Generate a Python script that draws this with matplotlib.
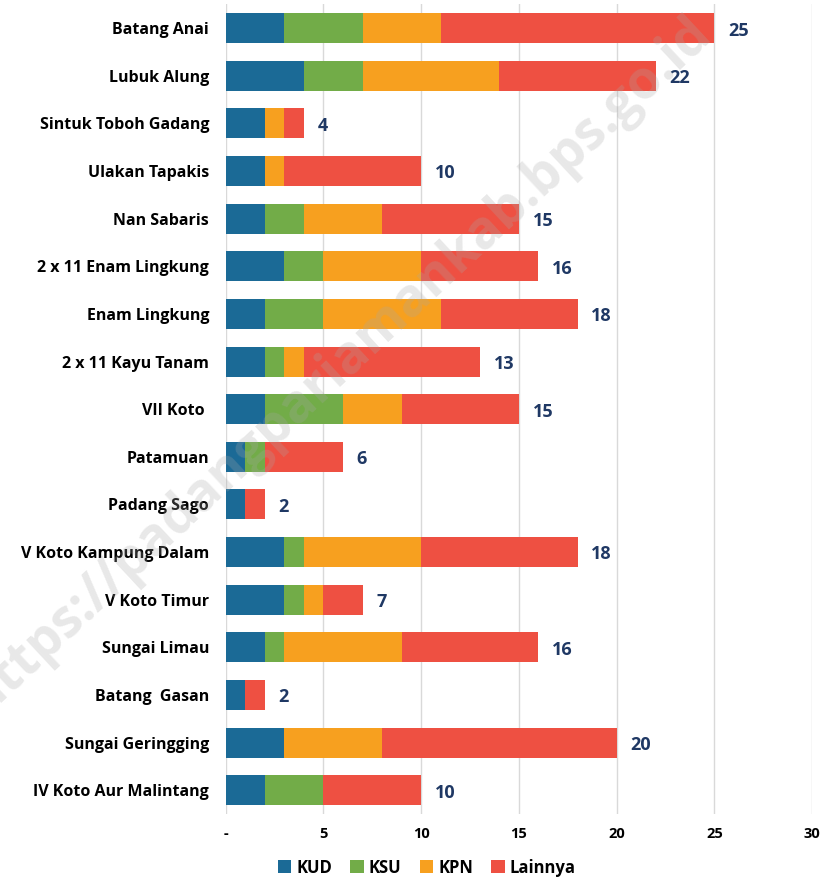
import matplotlib.pyplot as plt
import numpy as np

# Data koperasi per kecamatan
kecamatan = ['Batang Anai', 'Lubuk Alung', 'Sintuk Toboh Gadang', 'Ulakan Tapakis',
             'Nan Sabaris', '2 x 11 Enam Lingkung', 'Enam Lingkung', '2 x 11 Kayu Tanam',
             'VII Koto ', 'Patamuan', 'Padang Sago', 'V Koto Kampung Dalam',
             'V Koto Timur', 'Sungai Limau', 'Batang  Gasan', 'Sungai Geringging',
             'IV Koto Aur Malintang']
kud = [3, 4, 2, 2, 2, 3, 2, 2, 2, 1, 1, 3, 3, 2, 1, 3, 2]
ksu = [4, 3, 0, 0, 2, 2, 3, 1, 4, 1, 0, 1, 1, 1, 0, 0, 3]
kpn = [4, 7, 1, 1, 4, 5, 6, 1, 3, 0, 0, 6, 1, 6, 0, 5, 0]
lainnya = [14, 8, 1, 7, 7, 6, 7, 9, 6, 4, 1, 8, 2, 7, 1, 12, 5]

series = [('KUD', kud, '#1B6A96'), ('KSU', ksu, '#72AC48'),
          ('KPN', kpn, '#F7A01F'), ('Lainnya', lainnya, '#EE5042')]

plt.rcParams['font.family'] = ['Open Sans', 'DejaVu Sans']

fig = plt.figure(figsize=(8.27, 8.81), dpi=100)
ax = fig.add_axes([0.273, 0.076, 0.709, 0.919])

y = np.arange(len(kecamatan))
left = np.zeros(len(kecamatan))
for name, vals, color in series:
    ax.barh(y, vals, left=left, height=0.63, color=color, label=name, zorder=2)
    left += np.array(vals)

# Label total
for i, total in enumerate(left):
    ax.text(total + 0.7, i + 0.05, f'{int(total)}', va='center', ha='left',
            fontsize=13, fontweight='bold', color='#1F3864')

ax.set_ylim(len(kecamatan) - 0.5, -0.5)
ax.set_xlim(0, 30)
ax.set_yticks(y)
ax.set_yticklabels(kecamatan, fontsize=11.5, fontweight='bold')
ax.set_xticks(range(0, 31, 5))
ax.set_xticklabels(['-'] + [str(v) for v in range(5, 31, 5)], fontsize=10.5, fontweight='bold')
ax.tick_params(length=0)
ax.tick_params(axis='x', pad=9)
ax.tick_params(axis='y', pad=12)
for s in ax.spines.values():
    s.set_visible(False)
ax.grid(axis='x', color='#D9D9D9', linewidth=1, zorder=0)

fig.legend(loc='lower center', bbox_to_anchor=(0.516, -0.012), ncol=4, frameon=False,
           handlelength=0.8, handleheight=0.8, handletextpad=0.3,
           columnspacing=1.1, prop={'weight': 'bold', 'size': 12})

# Watermark
fig.text(0.41, 0.585, 'https://padangpariamankab.bps.go.id', rotation=43,
         fontsize=38, fontweight='bold', color='#A8A8A8', alpha=0.26,
         ha='center', va='center', zorder=10)

plt.savefig('out.png', dpi=100)
